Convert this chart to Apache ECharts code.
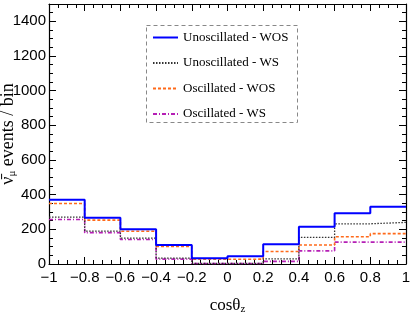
<!DOCTYPE html>
<html><head><meta charset="utf-8">
<script src="https://cdn.jsdelivr.net/npm/echarts@6/dist/echarts.min.js"></script>
<style>html,body{margin:0;padding:0;background:#fff}#c{width:411px;height:316px}</style>
</head><body><div id="c"></div>
<script>
var binEdges = [-1, -0.8, -0.6, -0.4, -0.2, 0, 0.2, 0.4, 0.6, 0.8, 1];
var seriesNames = ['Unoscillated - WOS', 'Unoscillated - WS', 'Oscillated - WOS', 'Oscillated - WS'];
var unoscWOS = [371, 267, 200, 110, 33, 45, 114, 215, 293, 330];
var unoscWS  = [270, 190, 149, 34, 4, 4, 30, 154, 232, 240];
var oscWOS   = [349, 253, 189, 101, 27, 28, 72, 110, 157, 175];
var oscWS    = [257, 181, 141, 28, 3, 3, 15, 76, 126, 126];
var yTicks = [0, 200, 400, 600, 800, 1000, 1200, 1400];

function stepData(vals) {
  var d = [];
  for (var i = 0; i < vals.length; i++) d.push([binEdges[i], vals[i]]);
  d.push([binEdges[binEdges.length - 1], vals[vals.length - 1]]);
  return d;
}
var styles = [
  {color: '#0000ff', width: 2, type: 'solid'},
  {color: '#333333', width: 1.3, type: [1.5, 1.5]},
  {color: '#ff6a1a', width: 1.6, type: [3, 2]},
  {color: '#b51fb5', width: 1.6, type: [4, 2, 1, 2]}
];
var allVals = [unoscWOS, unoscWS, oscWOS, oscWS];
var series = allVals.map(function (v, i) {
  return {
    name: seriesNames[i], type: 'line', step: 'end', symbol: 'none', showSymbol: false,
    data: stepData(v), lineStyle: styles[i], itemStyle: {color: styles[i].color},
    z: 10 - i
  };
});
var tickFont = {fontFamily: 'Liberation Sans', fontSize: 15, color: '#000'};
var chart = echarts.init(document.getElementById('c'));
chart.setOption({
  animation: false,
  grid: {left: 49, right: 5, top: 4, bottom: 52, containLabel: false, outerBoundsMode: 'none'},
  xAxis: [{
    type: 'value', min: -1, max: 1, interval: 0.2,
    axisLine: {onZero: false, lineStyle: {color: '#000', width: 1.2}},
    axisTick: {inside: true, length: 7, lineStyle: {color: '#000'}},
    minorTick: {show: true, splitNumber: 4, length: 4, lineStyle: {color: '#000'}},
    splitLine: {show: false},
    axisLabel: Object.assign({margin: 6, formatter: function (v) { return String(+v.toFixed(1)).replace('-', '\u2212'); }}, tickFont),
    name: '{a|cos\u03b8}{s|z}', nameLocation: 'middle', nameGap: 32, nameMoveOverlap: false,
    nameTextStyle: {rich: {a: {fontFamily: 'Liberation Serif', fontSize: 17, color: '#000'}, s: {fontFamily: 'Liberation Serif', fontSize: 11, color: '#000', verticalAlign: 'bottom', padding: [8, 0, 0, 0]}}}
  }, {
    type: 'value', min: -1, max: 1, interval: 0.2, position: 'top',
    axisLine: {onZero: false, lineStyle: {color: '#000', width: 1.2}},
    axisTick: {inside: true, length: 7, lineStyle: {color: '#000'}},
    minorTick: {show: true, splitNumber: 4, length: 4, lineStyle: {color: '#000'}},
    splitLine: {show: false}, axisLabel: {show: false}
  }],
  yAxis: [{
    type: 'value', min: 0, max: 1500, interval: 200,
    axisLine: {show: true, onZero: false, lineStyle: {color: '#000', width: 1.2}},
    axisTick: {show: true, inside: true, length: 7, lineStyle: {color: '#000'}},
    minorTick: {show: true, splitNumber: 4, length: 4, lineStyle: {color: '#000'}},
    splitLine: {show: false},
    axisLabel: Object.assign({margin: 3, formatter: function (v) { return yTicks.indexOf(v) >= 0 ? String(v) : ''; }}, tickFont),
    name: '{a|\u03bd\u0304}{s|\u03bc}{a| events / bin}', nameLocation: 'middle', nameGap: 31, nameRotate: 90, nameMoveOverlap: false,
    nameTextStyle: {rich: {a: {fontFamily: 'Liberation Serif', fontSize: 18, color: '#000'}, s: {fontFamily: 'Liberation Serif', fontSize: 11, color: '#000', verticalAlign: 'bottom', padding: [8, 0, 0, 0]}}}
  }, {
    type: 'value', min: 0, max: 1500, interval: 200, position: 'right',
    axisLine: {show: true, onZero: false, lineStyle: {color: '#000', width: 1.2}},
    axisTick: {show: true, inside: true, length: 7, lineStyle: {color: '#000'}},
    minorTick: {show: true, splitNumber: 4, length: 4, lineStyle: {color: '#000'}},
    splitLine: {show: false}, axisLabel: {show: false}
  }],
  legend: {
    orient: 'vertical', left: 152, top: 31, padding: 0, itemWidth: 25, itemHeight: 14, itemGap: 12.5,
    data: seriesNames,
    itemStyle: {opacity: 0},
    textStyle: {fontFamily: 'Liberation Serif', fontSize: 13, color: '#000'}
  },
  graphic: [{
    type: 'rect', shape: {x: 146.5, y: 25.5, width: 151, height: 97},
    style: {fill: '#fff', stroke: '#888', lineWidth: 1, lineDash: [4, 3]}, z: 1
  }],
  series: series
});
</script></body></html>
